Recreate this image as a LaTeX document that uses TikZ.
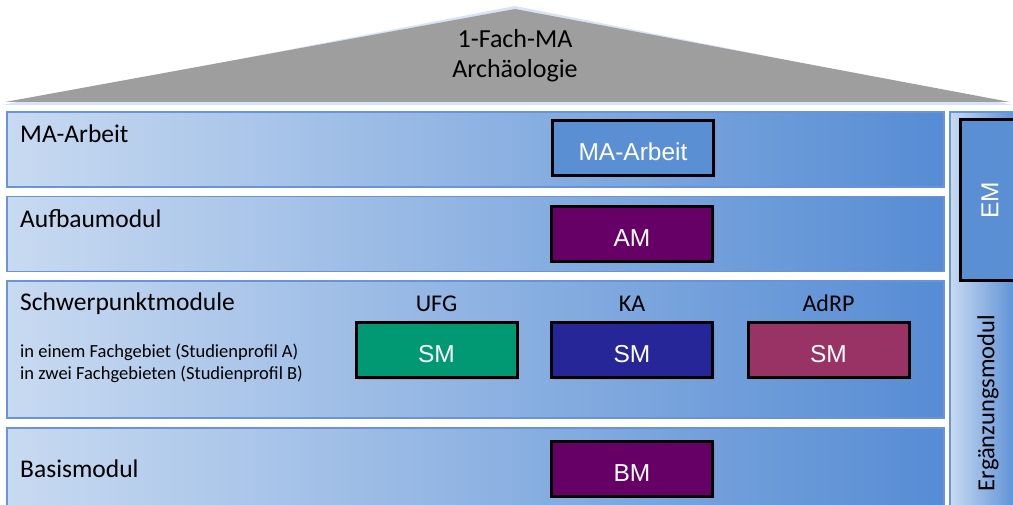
\documentclass[tikz,border=0pt]{standalone}
\usepackage{fontspec}
\setmainfont{Carlito}
\newfontfamily\arialfont{Liberation Sans}
\usetikzlibrary{shadows}
\definecolor{rowL}{RGB}{200,218,241}
\definecolor{rowR}{RGB}{86,140,212}
\definecolor{rowB}{RGB}{105,148,216}
\definecolor{roofG}{RGB}{158,158,158}
\definecolor{roofEdge}{RGB}{215,228,245}
\definecolor{emBlue}{RGB}{91,143,212}
\definecolor{ufgG}{RGB}{0,153,115}
\definecolor{kaB}{RGB}{38,38,153}
\definecolor{adrpR}{RGB}{153,51,102}
\definecolor{modP}{RGB}{102,0,102}
\begin{document}
\begin{tikzpicture}[x=1pt,y=-1pt,
  rowbox/.style={rectangle, draw=rowB, line width=1.2pt, left color=rowL, right color=rowR, inner sep=0pt},
  modbox/.style={rectangle, draw=black, line width=3pt, inner sep=0pt,
    minimum width=161pt, minimum height=55pt, text=white,
    text height=25pt, text depth=0pt,
    font=\arialfont\fontsize{24.5}{28}\selectfont,
    drop shadow={shadow xshift=2pt, shadow yshift=-2pt, opacity=0.3}},
  lbl/.style={font=\fontsize{25.5}{30}\selectfont, anchor=base west, inner sep=0pt},
  small/.style={font=\fontsize{18.5}{22}\selectfont, anchor=base west, inner sep=0pt, align=left},
  collbl/.style={font=\fontsize{24}{28}\selectfont, anchor=base, inner sep=0pt}]
\clip (0,0) rectangle (1013,505);
\fill[white] (0,0) rectangle (1013,505);
% roof
\fill[roofEdge] (2,105) -- (515,6) -- (1013,105) -- cycle;
\fill[roofG] (5,102) -- (515,9) -- (1010,102) -- cycle;
\node[align=center, font=\fontsize{26}{30}\selectfont, inner sep=0pt] (title) at (515,56) {1-Fach-MA\\Archäologie};
% rows
\node[rowbox, minimum width=937pt, minimum height=75pt] (r1) at (475.5,149.5) {};
\node[rowbox, minimum width=937pt, minimum height=75pt] (r2) at (475.5,234) {};
\node[rowbox, minimum width=937pt, minimum height=137pt] (r3) at (475.5,349.5) {};
\node[rowbox, minimum width=937pt, minimum height=90pt] (r4) at (475.5,473) {};
\node[rowbox, minimum width=70pt, minimum height=405pt] (r5) at (985,314.5) {};
% row labels
\node[lbl] (l1) at (20,143) {MA-Arbeit};
\node[lbl] (l2) at (20,228) {Aufbaumodul};
\node[lbl] (l3) at (20,311) {Schwerpunktmodule};
\node[small] (l3a) at (20,357) {in einem Fachgebiet (Studienprofil A)};
\node[small] (l3b) at (20,379) {in zwei Fachgebieten (Studienprofil B)};
\node[lbl] (l4) at (20,477) {Basismodul};
% column labels
\node[collbl] (cUFG) at (436.5,312) {UFG};
\node[collbl] (cKA) at (632,312) {KA};
\node[collbl] (cAdRP) at (828.5,312) {AdRP};
% module boxes
\node[modbox, fill=emBlue] (ma) at (633,148) {MA-Arbeit};
\node[modbox, fill=modP] (am) at (632,234) {AM};
\node[modbox, fill=ufgG] (smU) at (436.5,350) {SM};
\node[modbox, fill=kaB] (smK) at (632,350) {SM};
\node[modbox, fill=adrpR] (smA) at (828.5,350) {SM};
\node[modbox, fill=modP] (bm) at (632,468.5) {BM};
% EM
\node[modbox, fill=emBlue, minimum width=161pt, minimum height=58pt, text height=17.5pt, rotate=90] (em) at (989.5,200) {EM};
\node[font=\fontsize{24.5}{28}\selectfont, rotate=90, inner sep=0pt] (erg) at (988,403) {Ergänzungsmodul};
\end{tikzpicture}
\end{document}
